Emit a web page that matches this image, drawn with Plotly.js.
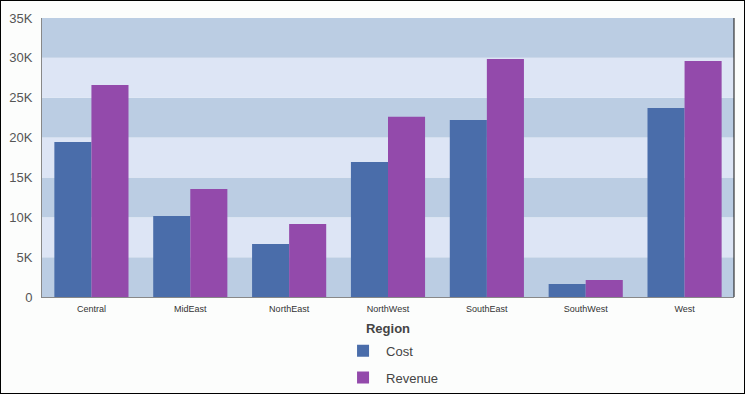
<!DOCTYPE html>
<html>
<head>
<meta charset="utf-8">
<script src="https://cdn.plot.ly/plotly-3.0.1.min.js"></script>
<style>
html,body{margin:0;padding:0;background:#fff;}
#chart{width:743px;height:392px;border:1px solid #000;background:#FCFDFC;}
</style>
</head>
<body>
<div id="chart"></div>
<script>
var regions = ["Central","MidEast","NorthEast","NorthWest","SouthEast","SouthWest","West"];
var cost = [19450, 10150, 6650, 16950, 22200, 1630, 23700];
var revenue = [26600, 13550, 9150, 22600, 29850, 2130, 29600];
var yTickVals = [0,5000,10000,15000,20000,25000,30000,35000];
var yTickText = ["0","5K","10K","15K","20K","25K","30K","35K"];

var bandDark = "#BBCDE3", bandLight = "#DDE5F5";
var shapes = [];
for (var i = 0; i < yTickVals.length - 1; i++) {
  shapes.push({type:"rect", xref:"paper", yref:"y", x0:0, x1:1,
    y0:yTickVals[i], y1:yTickVals[i+1], fillcolor:(i%2===0?bandDark:bandLight),
    line:{width:0}, layer:"below"});
}
shapes.push({type:"line", xref:"paper", yref:"paper", x0:1, x1:1, y0:0, y1:1,
  line:{color:"#111", width:1}});

var traces = [
  {type:"bar", name:"Cost", x:regions, y:cost, marker:{color:"#4A6DAA"}, legendgroup:"a"},
  {type:"bar", name:"Revenue", x:regions, y:revenue, marker:{color:"#934AAB"}, legendgroup:"b"}
];

var layout = {
  width:743, height:392,
  margin:{l:41, r:10, t:17, b:96},
  paper_bgcolor:"#FCFDFC", plot_bgcolor:"rgba(0,0,0,0)",
  font:{family:"Liberation Sans, Arial, sans-serif", color:"#444"},
  barmode:"group", bargap:0.25, bargroupgap:0,
  showlegend:true,
  legend:{orientation:"v", x:0.4307, xanchor:"left", yref:"container", y:0.146, yanchor:"top",
    traceorder:"grouped", tracegroupgap:7, itemwidth:36, font:{size:13, color:"#444"},
    bgcolor:"rgba(0,0,0,0)"},
  xaxis:{type:"category", showgrid:false, zeroline:false, showline:true, linecolor:"#888", linewidth:1,
    ticks:"outside", ticklen:3, tickcolor:"rgba(0,0,0,0)", tickfont:{size:9, color:"#333"}, fixedrange:true,
    automargin:false,
    title:{text:"Region", font:{size:13, color:"#444", weight:"bold"}, standoff:11}},
  yaxis:{range:[0,35000], tickvals:yTickVals, ticktext:yTickText, showgrid:false, zeroline:false,
    showline:true, linecolor:"#888", linewidth:1, ticks:"outside", ticklen:6, tickcolor:"rgba(0,0,0,0)",
    tickfont:{size:13, color:"#555"}, fixedrange:true, automargin:false},
  shapes:shapes
};

Plotly.newPlot("chart", traces, layout, {displayModeBar:false, staticPlot:true});
</script>
</body>
</html>
